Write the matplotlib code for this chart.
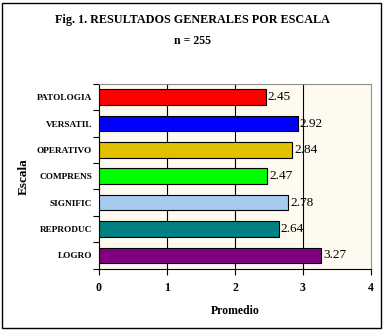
import matplotlib
matplotlib.use("Agg")
import matplotlib.pyplot as plt
from matplotlib.patches import Rectangle
import numpy as np

categories = ["PATOLOGIA", "VERSATIL", "OPERATIVO", "COMPRENS", "SIGNIFIC", "REPRODUC", "LOGRO"]
values = [2.45, 2.92, 2.84, 2.47, 2.78, 2.64, 3.27]
colors = ["#FF0000", "#0000FF", "#E0C000", "#00FF00", "#A6CAF0", "#008080", "#800080"]
xticks = [0, 1, 2, 3, 4]

plt.rcParams['font.family'] = ['Liberation Serif', 'DejaVu Serif']

fig = plt.figure(figsize=(3.85, 3.32), dpi=100)
fig.patch.set_facecolor("white")
# outer border
fig.add_artist(Rectangle((2/385, 4/332), 379/385, 325/332, transform=fig.transFigure,
                         fill=False, edgecolor="black", linewidth=1.0))

ax = fig.add_axes([99/385, 1 - 268.5/332, (371 - 99)/385, (268.5 - 84)/332])
ax.set_facecolor("#FFFAF0")

y = np.arange(len(categories))
ax.barh(y, values, height=0.59, color=colors, edgecolor="black", linewidth=0.8, zorder=3)
for yi, v in zip(y, values):
    ax.text(v + 0.03, yi, f"{v:.2f}", va="center", ha="left", fontsize=9.5, zorder=4)

ax.set_ylim(len(categories) - 0.5, -0.5)
ax.set_xlim(0, 4)
ax.set_xticks(xticks)
ax.set_xticklabels([str(t) for t in xticks], fontsize=8.5, fontweight="bold")
ax.set_yticks(y)
ax.set_yticklabels(categories, fontsize=6.7, fontweight="bold")
ax.tick_params(axis="y", length=0, pad=5)
ax.set_yticks(np.arange(-0.5, len(categories), 1), minor=True)
ax.tick_params(axis="y", which="minor", length=4, width=0.8, direction="out")
ax.tick_params(axis="x", length=4, width=0.8, direction="out", pad=6)

for g in [1, 2, 3]:
    ax.axvline(g, color="black", linewidth=0.8, zorder=1)

for s in ["top", "right"]:
    ax.spines[s].set_color("#909090")
    ax.spines[s].set_linewidth(0.8)
for s in ["left", "bottom"]:
    ax.spines[s].set_color("black")
    ax.spines[s].set_linewidth(0.8)

ax.set_xlabel("Promedio", fontsize=8.5, fontweight="bold", labelpad=8)
ax.set_ylabel("Escala", fontsize=9.5, fontweight="bold", labelpad=5)

fig.text(192/385, 1 - 20/332, "Fig. 1. RESULTADOS GENERALES POR ESCALA", ha="center", va="center",
         fontsize=8.7, fontweight="bold")
fig.text(192/385, 1 - 41/332, "n = 255", ha="center", va="center", fontsize=8.5, fontweight="bold")

fig.savefig("out.png", dpi=100, facecolor="white")
